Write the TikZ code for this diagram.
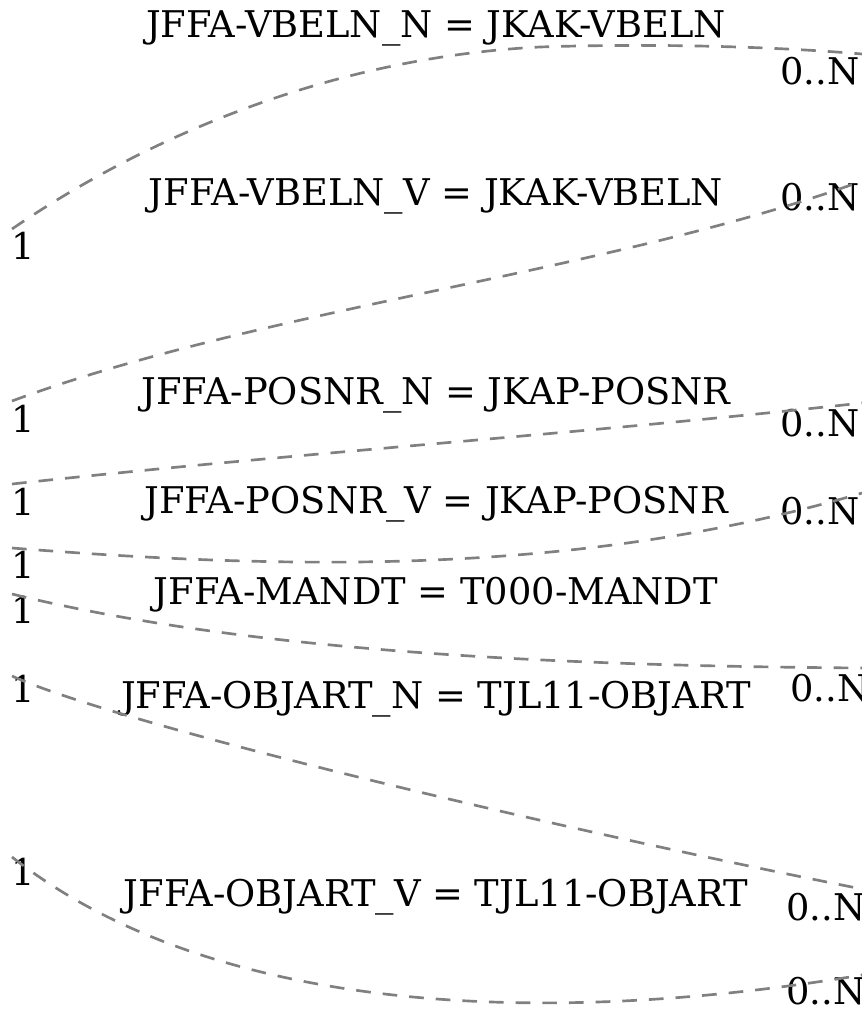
\documentclass[tikz,border=0pt]{standalone}
\usepackage{fontspec}
\setmainfont{DejaVu Serif}
\definecolor{edgegray}{RGB}{128,128,128}
\begin{document}
\begin{tikzpicture}[x=0.75pt,y=-0.75pt,
  edge/.style={draw=edgegray,line width=2pt,dash pattern=on 11pt off 9pt},
  rel/.style={inner sep=0pt,anchor=base,font=\fontsize{27.6}{32}\selectfont},
  card/.style={inner sep=0pt,anchor=base west,font=\fontsize{27.6}{32}\selectfont}]
\useasboundingbox (0,0) rectangle (862,1010);
% relation labels
\node[rel] (l1) at (436,37) {JFFA-VBELN\_N = JKAK-VBELN};
\node[rel] (l2) at (436,205) {JFFA-VBELN\_V = JKAK-VBELN};
\node[rel] (l3) at (436,404) {JFFA-POSNR\_N = JKAP-POSNR};
\node[rel] (l4) at (436,513) {JFFA-POSNR\_V = JKAP-POSNR};
\node[rel] (l5) at (436,604) {JFFA-MANDT = T000-MANDT};
\node[rel] (l6) at (436,708) {JFFA-OBJART\_N = TJL11-OBJART};
\node[rel] (l7) at (436,906) {JFFA-OBJART\_V = TJL11-OBJART};
% cardinalities left
\node[card] (a1) at (11,259) {1};
\node[card] (a2) at (11,432) {1};
\node[card] (a3) at (11,515) {1};
\node[card] (a4) at (11,578) {1};
\node[card] (a5) at (11,623) {1};
\node[card] (a6) at (11,702) {1};
\node[card] (a7) at (11,885) {1};
% cardinalities right
\node[card] (b1) at (780,84) {0..N};
\node[card] (b2) at (780,210) {0..N};
\node[card] (b3) at (780,436) {0..N};
\node[card] (b4) at (780,524) {0..N};
\node[card] (b5) at (790,701) {0..N};
\node[card] (b6) at (786,920) {0..N};
\node[card] (b7) at (786,1004) {0..N};
% edge ends
\coordinate (s1) at (12,229);
\coordinate (e1) at (862,54);
\coordinate (s2) at (12,401);
\coordinate (e2) at (862,181);
\coordinate (s3) at (12,484);
\coordinate (e3) at (862,403);
\coordinate (s4) at (12,548);
\coordinate (e4) at (862,493);
\coordinate (s5) at (12,594);
\coordinate (e5) at (862,668);
\coordinate (s6) at (12,676);
\coordinate (e6) at (862,889);
\coordinate (s7) at (12,857);
\coordinate (e7) at (862,975);
% edges
\draw[edge] (s1) .. controls (135,145) and (320,58) .. (540,47) .. controls (660,43) and (780,47) .. (e1);
\draw[edge] (s2) .. controls (263,308) and (612,272) .. (e2);
\draw[edge] (s3) .. controls (296,453) and (579,434) .. (e3);
\draw[edge] (s4) .. controls (290,570) and (582,576) .. (e4);
\draw[edge] (s5) .. controls (263,656) and (600,666) .. (e5);
\draw[edge] (s6) .. controls (120,725) and (562,830) .. (e6);
\draw[edge] (s7) .. controls (220,1020) and (560,1025) .. (e7);
\end{tikzpicture}
\end{document}
